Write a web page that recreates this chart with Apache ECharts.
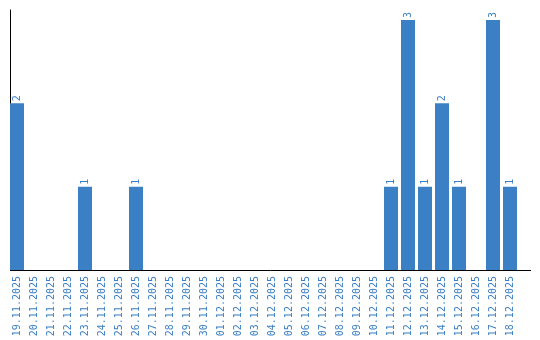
<!DOCTYPE html>
<html><head><meta charset="utf-8">
<script src="https://cdn.jsdelivr.net/npm/echarts@6/dist/echarts.min.js"></script>
<style>html,body{margin:0;padding:0;background:#fff}#c{width:540px;height:340px}</style>
</head><body><div id="c"></div>
<script>
const categories = ["19.11.2025","20.11.2025","21.11.2025","22.11.2025","23.11.2025","24.11.2025","25.11.2025","26.11.2025","27.11.2025","28.11.2025","29.11.2025","30.11.2025","01.12.2025","02.12.2025","03.12.2025","04.12.2025","05.12.2025","06.12.2025","07.12.2025","08.12.2025","09.12.2025","10.12.2025","11.12.2025","12.12.2025","13.12.2025","14.12.2025","15.12.2025","16.12.2025","17.12.2025","18.12.2025"];
const values = [2,0,0,0,1,0,0,1,0,0,0,0,0,0,0,0,0,0,0,0,0,0,1,3,1,2,1,0,3,1];

const blue = '#3b7fc4';
const chart = echarts.init(document.getElementById('c'), null, {renderer:'canvas'});
chart.setOption({
  animation:false,
  grid:{left:8.5, right:21.5, top:10, bottom:70},
  xAxis:{
    type:'category', data:categories,
    axisLine:{show:false}, axisTick:{show:false},
    axisLabel:{rotate:90, color:blue, fontFamily:'DejaVu Sans Mono', fontSize:10, margin:6, interval:0}
  },
  yAxis:{
    type:'value', min:0, max:3.12, offset:-1.5,
    axisLine:{show:true, lineStyle:{color:'#000', width:1}},
    axisTick:{show:false}, axisLabel:{show:false}, splitLine:{show:false}
  },
  graphic:[{type:'line', shape:{x1:10, y1:270.5, x2:531, y2:270.5}, style:{stroke:'#000', lineWidth:1}, z:100}],
  series:[{
    type:'bar', data:values.map(v=>v===0?null:v), barWidth:14, itemStyle:{color:blue},
    label:{show:true, position:'top', rotate:90, align:'left', verticalAlign:'middle', distance:2,
      color:blue, fontFamily:'DejaVu Sans Mono', fontSize:10}
  }]
});
</script></body></html>
